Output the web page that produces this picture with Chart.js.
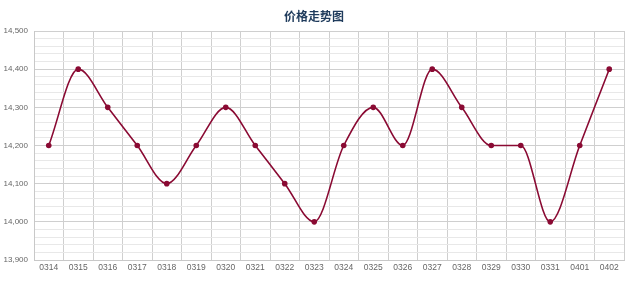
<!DOCTYPE html>
<html>
<head>
<meta charset="utf-8">
<script src="https://cdn.jsdelivr.net/npm/chart.js@4/dist/chart.umd.min.js"></script>
<style>
html,body{margin:0;padding:0;background:#fff;}
#wrap{width:640px;height:282px;position:relative;}
</style>
</head>
<body>
<div id="wrap"><canvas id="c" width="640" height="282"></canvas></div>
<script>
const titleText = "价格走势图";
const categories = ["0314","0315","0316","0317","0318","0319","0320","0321","0322","0323","0324","0325","0326","0327","0328","0329","0330","0331","0401","0402"];
const prices = [14200,14400,14300,14200,14100,14200,14300,14200,14100,14000,14200,14300,14200,14400,14300,14200,14200,14000,14200,14400];
const yMin = 13900, yMax = 14500, yMinorStep = 20, yMajorStep = 100;

const titlePlugin = {
  id: 'fixedTitle',
  afterDraw(chart) {
    const ctx = chart.ctx;
    ctx.save();
    ctx.font = 'bold 12px "Noto Sans CJK SC", sans-serif';
    ctx.fillStyle = '#1f3b5c';
    ctx.textAlign = 'center';
    ctx.textBaseline = 'middle';
    ctx.fillText(titleText, 314, 16);
    ctx.restore();
  }
};

new Chart(document.getElementById('c'), {
  type: 'line',
  data: {
    labels: categories,
    datasets: [{
      data: prices,
      borderColor: '#8a0a33',
      backgroundColor: '#8a0a33',
      borderWidth: 1.6,
      pointRadius: 2.8,
      pointBorderWidth: 0,
      pointHoverRadius: 2.8,
      pointBackgroundColor: '#8a0a33',
      pointBorderColor: '#8a0a33',
      cubicInterpolationMode: 'monotone',
      fill: false
    }]
  },
  options: {
    responsive: false,
    animation: false,
    devicePixelRatio: 1,
    layout: { padding: { top: 31, right: 16, left: 0, bottom: 0 } },
    plugins: { legend: { display: false }, title: { display: false }, tooltip: { enabled: false } },
    scales: {
      x: {
        offset: true,
        grid: { offset: true, color: '#cfcfcf', drawTicks: false, lineWidth: 1 },
        border: { color: '#c8c8c8' },
        ticks: { font: { size: 8.5, family: 'Liberation Sans' }, color: '#666', padding: 3, maxRotation: 0, autoSkip: false },
        afterFit(s) { s.height = 22; }
      },
      y: {
        min: yMin, max: yMax,
        border: { color: '#c8c8c8' },
        grid: {
          drawTicks: false,
          color: (c) => (c.tick && c.tick.value % yMajorStep === 0) ? '#cfcfcf' : '#e8e8e8'
        },
        ticks: {
          stepSize: yMinorStep,
          autoSkip: false,
          padding: 6,
          font: { size: 8, family: 'Liberation Sans' },
          color: '#666',
          callback: (v) => (v % yMajorStep === 0) ? v.toLocaleString('en-US') : ''
        },
        afterFit(s) { s.width = 34; }
      }
    }
  },
  plugins: [titlePlugin]
});
</script>
</body>
</html>
